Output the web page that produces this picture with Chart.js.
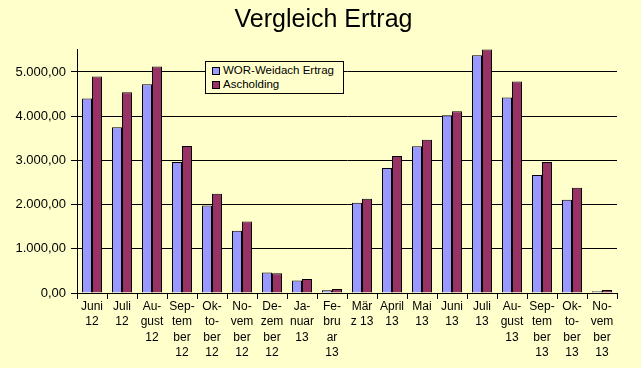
<!DOCTYPE html>
<html>
<head>
<meta charset="utf-8">
<script src="https://cdn.jsdelivr.net/npm/chart.js@4"></script>
<style>
  html, body { margin: 0; padding: 0; background: #ffffcc; }
  #wrap { position: relative; width: 641px; height: 368px; }
  #legend {
    position: absolute; left: 205px; top: 61px; width: 137px; height: 31px;
    border: 1px solid #000; background: #ffffcc;
    font: 11.5px 'Liberation Sans', Arial, sans-serif; color: #000;
  }
  #legend .item { position: absolute; left: 6px; height: 14px; line-height: 14px; white-space: nowrap; }
  #legend .box { display: inline-block; width: 6px; height: 6px; border: 1px solid #000; vertical-align: -1px; margin-right: 3px; }
</style>
</head>
<body>
<div id="wrap">
  <canvas id="chart"></canvas>
  <div id="legend"></div>
</div>
<script>
const months = [
  ['Juni', '12'], ['Juli', '12'], ['Au-', 'gust', '12'], ['Sep-', 'tem', 'ber', '12'],
  ['Ok-', 'to-', 'ber', '12'], ['No-', 'vem', 'ber', '12'], ['De-', 'zem', 'ber', '12'],
  ['Ja-', 'nuar', '13'], ['Fe-', 'bru', 'ar', '13'], ['Mär', 'z 13'], ['April', '13'],
  ['Mai', '13'], ['Juni', '13'], ['Juli', '13'], ['Au-', 'gust', '13'],
  ['Sep-', 'tem', 'ber', '13'], ['Ok-', 'to-', 'ber', '13'], ['No-', 'vem', 'ber', '13']
];
const weidach = [4400, 3750, 4725, 2965, 1980, 1410, 465, 285, 60, 2040, 2830, 3320, 4020, 5380, 4425, 2670, 2110, 40];
const ascholding = [4900, 4540, 5125, 3325, 2245, 1615, 445, 315, 90, 2130, 3100, 3465, 4110, 5510, 4785, 2965, 2380, 70];
const yTicks = [0, 1000, 2000, 3000, 4000, 5000];

function formatDe(v) {
  const parts = v.toFixed(2).split('.');
  const int = parts[0].replace(/\B(?=(\d{3})+(?!\d))/g, '.');
  return int + ',' + parts[1];
}

const font = "'Liberation Sans', Arial, sans-serif";

const chart = new Chart(document.getElementById('chart'), {
  type: 'bar',
  data: {
    labels: months,
    datasets: [
      {
        label: 'WOR-Weidach Ertrag',
        data: weidach,
        backgroundColor: '#9999ff',
        borderColor: '#000',
        borderWidth: 1
      },
      {
        label: 'Ascholding',
        data: ascholding,
        backgroundColor: '#993366',
        borderColor: '#000',
        borderWidth: 1
      }
    ]
  },
  options: {
    responsive: true,
    maintainAspectRatio: false,
    animation: false,
    devicePixelRatio: 1,
    layout: { padding: { left: 6, right: 0, top: 0, bottom: 0 } },
    datasets: {
      bar: { categoryPercentage: 0.6667, barPercentage: 1 }
    },
    plugins: {
      legend: { display: false },
      tooltip: { enabled: false },
      title: {
        display: true,
        text: 'Vergleich Ertrag',
        color: '#000',
        font: { family: font, size: 25, weight: 'normal', lineHeight: 1.2 },
        padding: { top: 5, bottom: 14 }
      }
    },
    scales: {
      x: {
        grid: { offset: true, drawOnChartArea: false, tickLength: 6, color: '#000' },
        border: { color: '#000' },
        ticks: {
          color: '#000',
          padding: 0,
          maxRotation: 0,
          autoSkip: false,
          font: { family: font, size: 12, lineHeight: 1.275 }
        },
        afterFit: s => { s.height = 75; }
      },
      y: {
        min: 0,
        max: 5520,
        grid: { color: '#000', tickLength: 6 },
        border: { color: '#000' },
        ticks: {
          color: '#000',
          padding: 5,
          font: { family: font, size: 13 },
          callback: v => formatDe(v)
        },
        afterBuildTicks: s => { s.ticks = yTicks.map(v => ({ value: v })); },
        afterFit: s => { s.width = 71; }
      },
      y2: {
        type: 'linear',
        position: 'right',
        display: true,
        grid: { display: false },
        border: { display: false },
        ticks: { display: false },
        afterFit: s => { s.width = 24; }
      }
    }
  }
});

// legend inside the plot, built from the datasets
const legend = document.getElementById('legend');
chart.data.datasets.forEach((ds, i) => {
  const item = document.createElement('div');
  item.className = 'item';
  item.style.top = (1 + i * 14) + 'px';
  const box = document.createElement('span');
  box.className = 'box';
  box.style.background = ds.backgroundColor;
  item.appendChild(box);
  item.appendChild(document.createTextNode(ds.label));
  legend.appendChild(item);
});
</script>
</body>
</html>
